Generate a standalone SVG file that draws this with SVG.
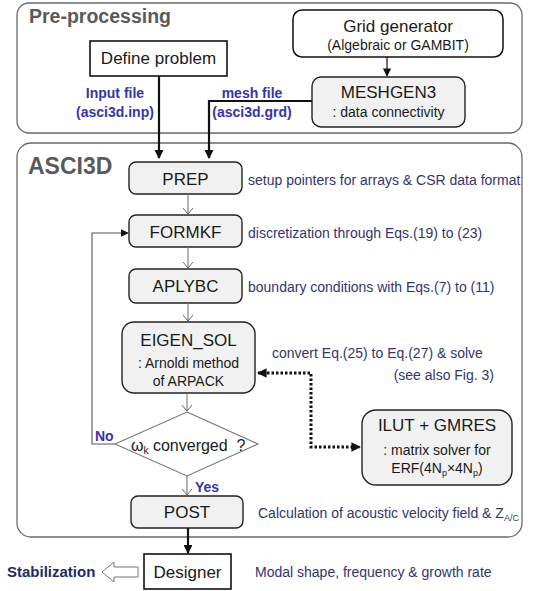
<svg xmlns="http://www.w3.org/2000/svg" width="533" height="591" viewBox="0 0 533 591">
<style>
text{font-family:"Liberation Sans",Arial,sans-serif;}
.grp{fill:#fff;stroke:#6a6a6a;stroke-width:1.3;}
.hd{font-weight:bold;fill:#5a5a5a;}
.box{fill:#f1f1f1;stroke:#222;stroke-width:1.4;}
.sq{fill:#fff;stroke:#111;stroke-width:1.6;}
.t{fill:#1a1a1a;font-size:17px;text-anchor:middle;}
.s{fill:#1a1a1a;font-size:14px;text-anchor:middle;}
.lbl{fill:#3535a8;font-weight:bold;font-size:14px;}
.side{fill:#34346e;font-size:14px;}
.thick{stroke:#111;stroke-width:2.2;fill:none;}
.thin{stroke:#777;stroke-width:1.1;fill:none;}
.dot{stroke:#111;stroke-width:3;stroke-dasharray:2.5 2;fill:none;}
</style>
<defs>
<marker id="ah" viewBox="0 0 10 10" refX="9" refY="5" markerWidth="4" markerHeight="4" orient="auto-start-reverse" markerUnits="strokeWidth"><path d="M0,0 L10,5 L0,10 z" fill="#111"/></marker>
<marker id="ahs" viewBox="0 0 10 10" refX="9" refY="5" markerWidth="7" markerHeight="7" orient="auto" markerUnits="strokeWidth"><path d="M0,0 L10,5 L0,10 z" fill="#111"/></marker>
<marker id="ad" viewBox="0 0 10 10" refX="9" refY="5" markerWidth="3.2" markerHeight="3.2" orient="auto-start-reverse" markerUnits="strokeWidth"><path d="M0,0 L10,5 L0,10 z" fill="#111"/></marker>
</defs>

<g id="pre-processing">
<rect class="grp" x="17" y="3" width="505" height="130" rx="12"/>
<text class="hd" x="29" y="23" font-size="19.5">Pre-processing</text>
</g>
<g id="asci3d">
<rect class="grp" x="17" y="143" width="505" height="394" rx="14"/>
<text class="hd" x="28" y="174" font-size="23">ASCI3D</text>
</g>

<g id="define-problem">
<rect class="sq" x="90" y="41" width="137" height="35"/>
<text class="t" x="158.5" y="64" font-size="16.5">Define problem</text>
</g>
<g id="grid-generator">
<rect x="293" y="10" width="210" height="47" rx="9" fill="#fff" stroke="#111" stroke-width="1.5"/>
<text class="t" x="398" y="32">Grid generator</text>
<text class="s" x="398" y="50" font-size="15">(Algebraic or GAMBIT)</text>
</g>
<g id="meshgen3">
<rect class="box" x="312" y="77" width="153" height="50" rx="9"/>
<text class="t" x="388.5" y="98">MESHGEN3</text>
<text class="s" x="388.5" y="117" font-size="14.5">: data connectivity</text>
</g>
<g id="prep">
<rect class="box" x="129" y="162" width="113" height="32" rx="7"/>
<text class="t" x="185.5" y="185">PREP</text>
</g>
<g id="formkf">
<rect class="box" x="129" y="215" width="113" height="32" rx="7"/>
<text class="t" x="185.5" y="238">FORMKF</text>
</g>
<g id="aplybc">
<rect class="box" x="129" y="269" width="113" height="34" rx="7"/>
<text class="t" x="185.5" y="292">APLYBC</text>
</g>
<g id="eigen-sol">
<rect class="box" x="122" y="322" width="133" height="71" rx="12"/>
<text class="t" x="188.5" y="346" font-size="18">EIGEN_SOL</text>
<text class="s" x="188.5" y="368" font-size="15.5">: Arnoldi method</text>
<text class="s" x="188.5" y="386" font-size="15.5">of ARPACK</text>
</g>
<g id="converged">
<polygon points="187,412 258,444 187,476 115,444" fill="#fff" stroke="#777" stroke-width="1.1"/>
<text x="131" y="451" font-size="16" fill="#1a1a1a" xml:space="preserve">ω<tspan font-size="10" dy="3">k</tspan><tspan dy="-3"> converged  ?</tspan></text>
</g>
<g id="ilut-gmres">
<rect class="box" x="362" y="410" width="150" height="75" rx="14"/>
<text class="t" x="437" y="431" font-size="18">ILUT + GMRES</text>
<text class="s" x="437" y="455">: matrix solver for</text>
<text class="s" x="437" y="473">ERF(4N<tspan font-size="9" dy="3">p</tspan><tspan dy="-3">×4N</tspan><tspan font-size="9" dy="3">p</tspan><tspan dy="-3">)</tspan></text>
</g>
<g id="post">
<rect class="box" x="131" y="496" width="112" height="32" rx="7"/>
<text class="t" x="187" y="518">POST</text>
</g>
<g id="designer">
<rect class="sq" x="144" y="554" width="87" height="35"/>
<text class="t" x="187.5" y="578">Designer</text>
</g>
<g id="stabilization">
<text x="7" y="577" font-size="15" font-weight="bold" fill="#1f2a66">Stabilization</text>
</g>

<g id="connectors">
<path class="thick" d="M159,76 V158" marker-end="url(#ah)"/>
<path class="thick" d="M312,101 H209 V158" marker-end="url(#ah)"/>
<path d="M387,57 V76" stroke="#111" stroke-width="1.2" fill="none" marker-end="url(#ahs)"/>
<path class="thin" d="M188,194 V214"/>
<path d="M183,208 L188,214 L193,208" stroke="#666" stroke-width="1" fill="none"/>
<path class="thin" d="M188,247 V268"/>
<path d="M183,262 L188,268 L193,262" stroke="#666" stroke-width="1" fill="none"/>
<path class="thin" d="M188,303 V321"/>
<path d="M183,315 L188,321 L193,315" stroke="#666" stroke-width="1" fill="none"/>
<path class="thin" d="M187,393 V411"/>
<path d="M182,405 L187,411 L192,405" stroke="#666" stroke-width="1" fill="none"/>
<path class="thin" d="M187,476 V495"/>
<path d="M182,489 L187,495 L192,489" stroke="#666" stroke-width="1" fill="none"/>
<path d="M115,444 H92 V233 H128" stroke="#555" stroke-width="1.1" fill="none" marker-end="url(#ahs)"/>
<path class="dot" d="M258,373 H311 V447 H360" marker-start="url(#ad)" marker-end="url(#ad)"/>
<path class="thick" d="M188,528 V553" marker-end="url(#ah)"/>
<path d="M138,567 H114 V562 L102,572 L114,582 V577 H138 Z" fill="#fff" stroke="#777" stroke-width="1"/>
</g>

<g id="labels">
<text class="lbl" x="115" y="98" text-anchor="middle">Input file</text>
<text class="lbl" x="115" y="117" text-anchor="middle">(asci3d.inp)</text>
<text class="lbl" x="252" y="98" text-anchor="middle">mesh file</text>
<text class="lbl" x="252" y="117" text-anchor="middle">(asci3d.grd)</text>
<text class="side" x="248" y="185">setup pointers for arrays &amp; CSR data format</text>
<text class="side" x="248" y="238">discretization through Eqs.(19) to (23)</text>
<text class="side" x="248" y="292">boundary conditions with Eqs.(7) to (11)</text>
<text class="side" x="272" y="358">convert Eq.(25) to Eq.(27) &amp; solve</text>
<text class="side" x="494" y="380" text-anchor="end">(see also Fig. 3)</text>
<text class="lbl" x="95" y="441" font-size="15">No</text>
<text class="lbl" x="195" y="492" font-size="15">Yes</text>
<text class="side" x="258" y="518">Calculation of acoustic velocity field &amp; Z<tspan font-size="9" dy="3">A/C</tspan></text>
<text class="side" x="255" y="577">Modal shape, frequency &amp; growth rate</text>
</g>
</svg>
